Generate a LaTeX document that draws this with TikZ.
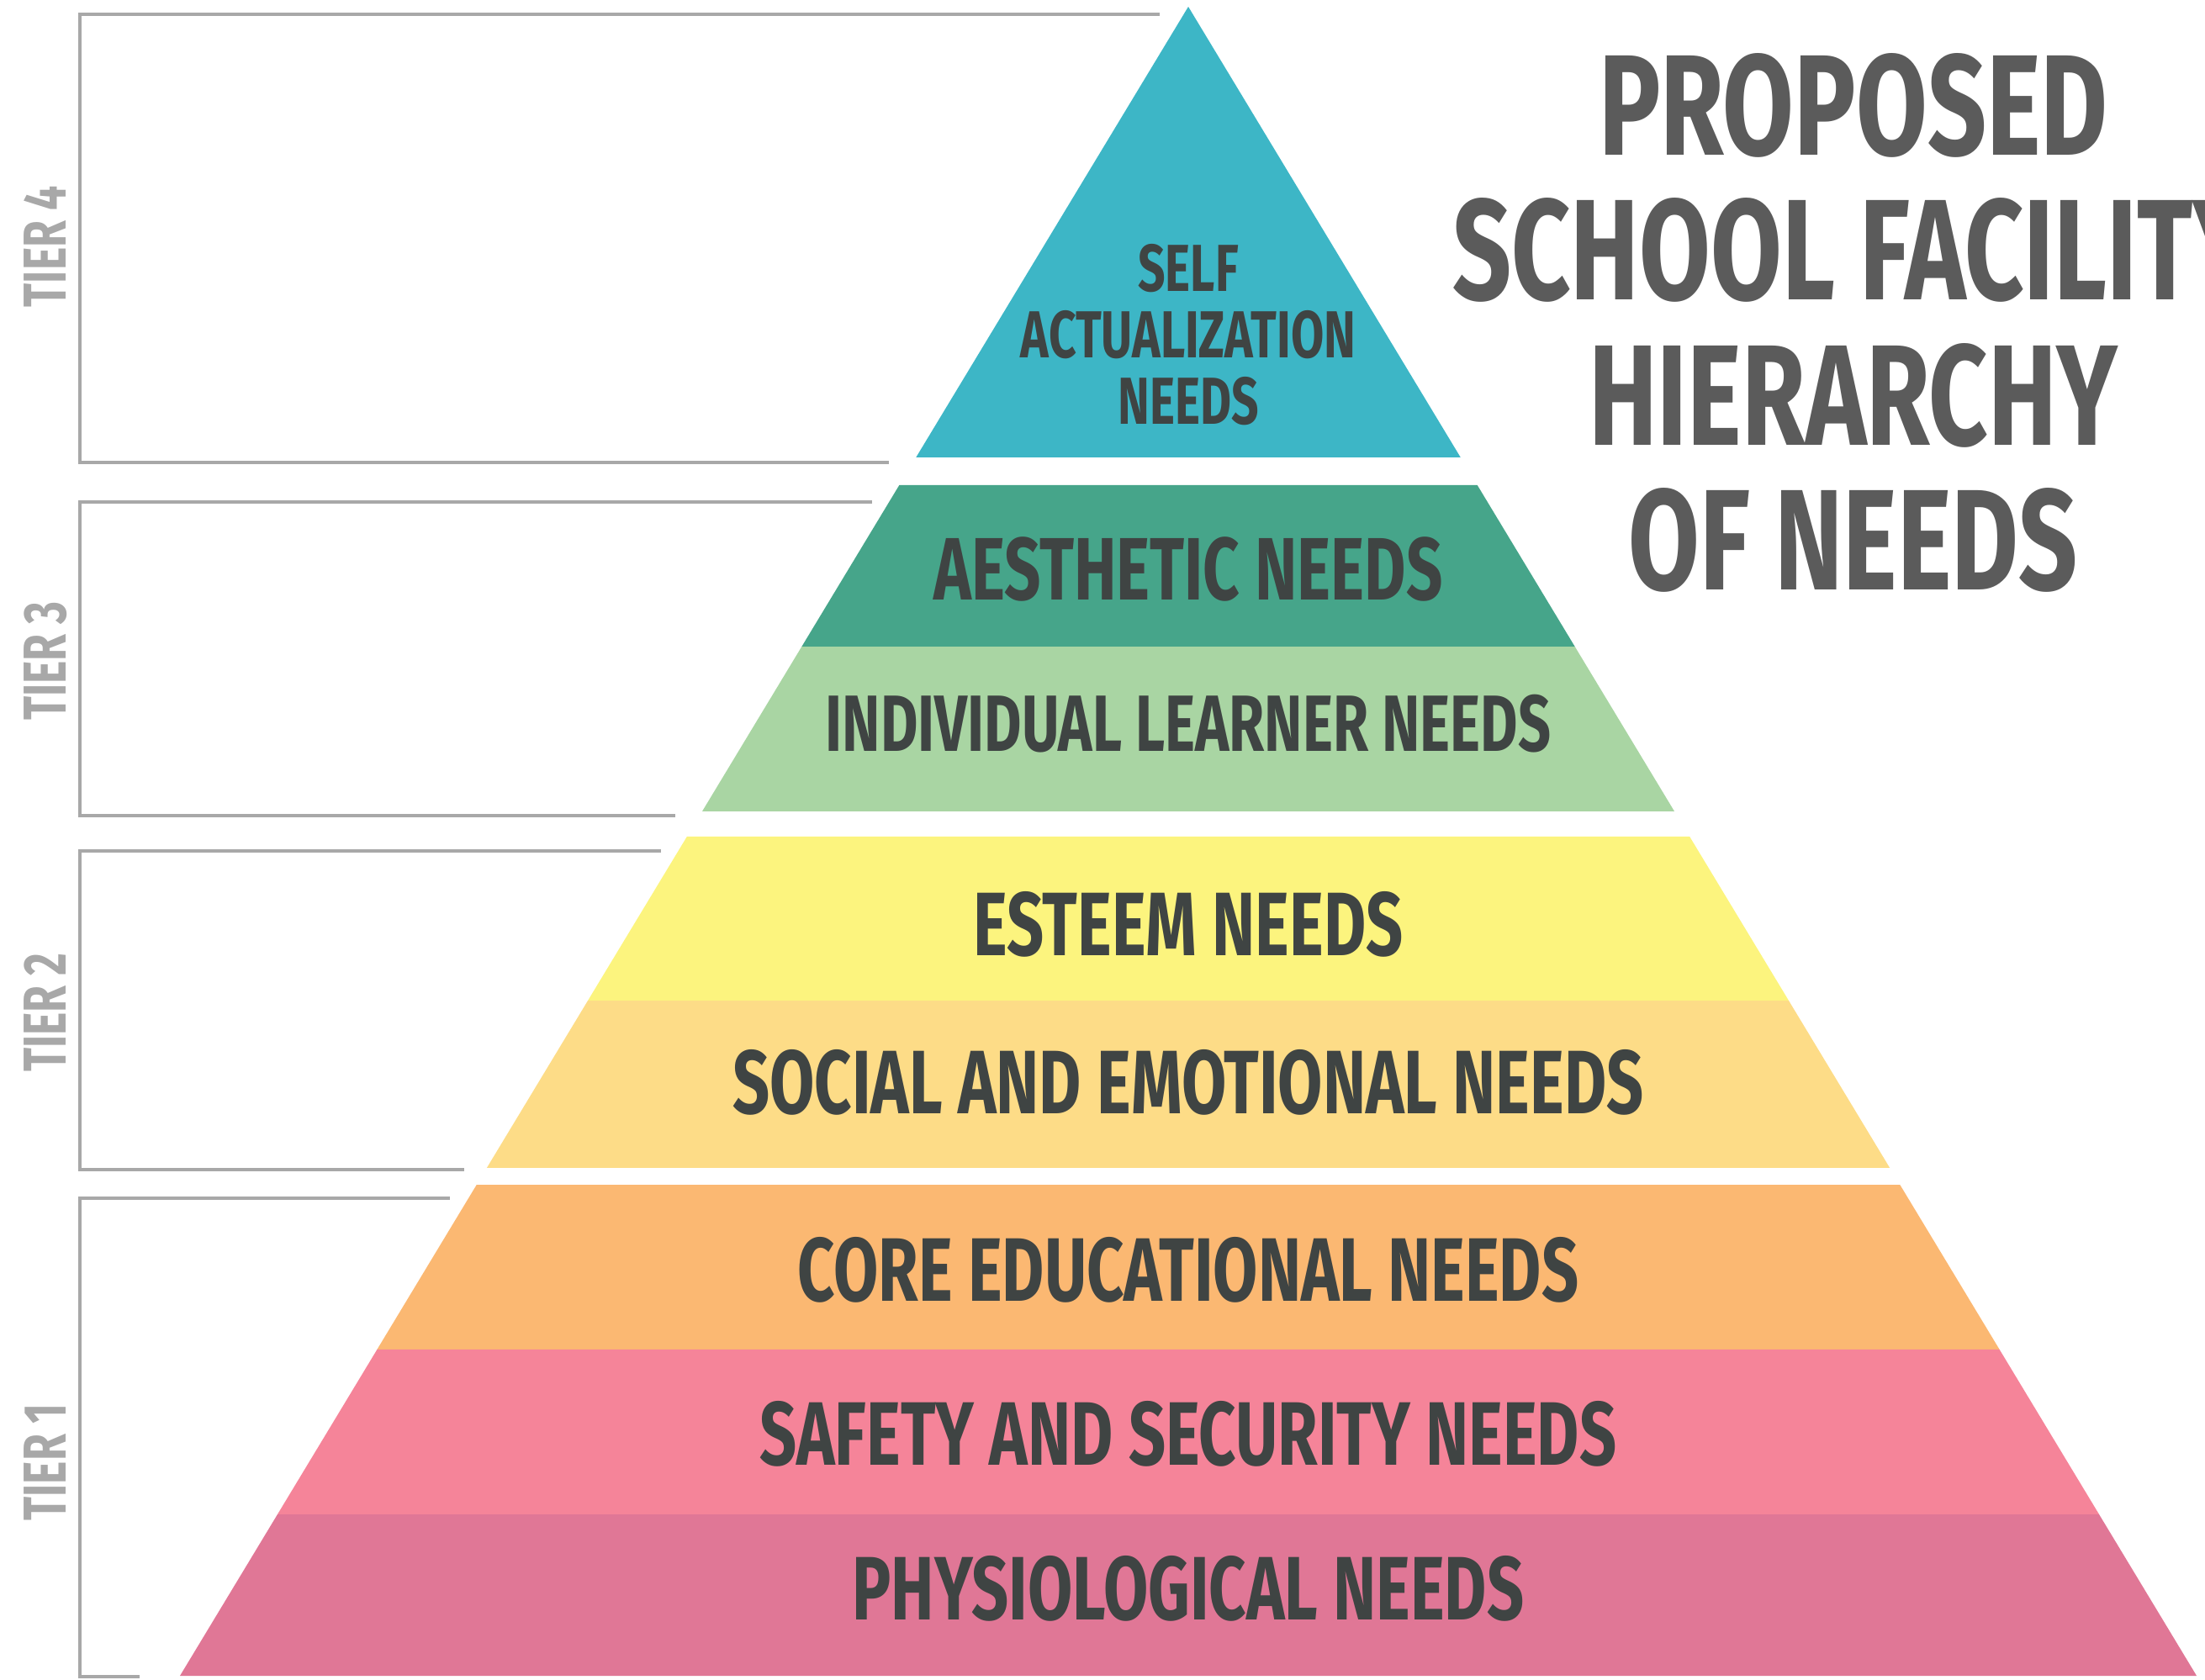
\documentclass[tikz,border=0pt]{standalone}
\usepackage{fontspec}
\setmainfont{Fira Sans}[FakeStretch=0.72]
\usepackage{tikz}
\usetikzlibrary{positioning,calc}
\definecolor{NeedSelf}{HTML}{3DB6C6}
\definecolor{NeedAesthetic}{HTML}{46A58A}
\definecolor{NeedLearner}{HTML}{A9D5A3}
\definecolor{NeedEsteem}{HTML}{FCF47E}
\definecolor{NeedSocial}{HTML}{FDDC87}
\definecolor{NeedCore}{HTML}{FBB872}
\definecolor{NeedSafety}{HTML}{F58499}
\definecolor{NeedBody}{HTML}{E07796}
\definecolor{NeedText}{HTML}{3F4443}
\definecolor{TitleGray}{HTML}{5B5B5B}
\definecolor{TierGray}{HTML}{A8A8A8}
\tikzset{
  needtext/.style={font=\bfseries\fontsize{30.5}{32}\selectfont, text=NeedText, align=center},
  tierbox/.style={draw=TierGray, line width=1.1pt},
  tierlabel/.style={rotate=90, font=\bfseries\fontsize{20.5}{24}\selectfont, text=TierGray},
  titletext/.style={font=\bfseries\fontsize{48.5}{49}\selectfont, text=TitleGray, align=center}
}

\begin{document}
\begin{tikzpicture}
        \useasboundingbox (0,0) rectangle (26.22,19.97);
        \clip (0,0) rectangle (26.22,19.97);
        \coordinate (apex) at (14.13,19.89);
        \coordinate (bl) at (2.14,0.04);
        \coordinate (br) at (26.12,0.04);
        % pyramid bands, as fractions from apex to base
        \foreach \a/\b/\col in {0/0.270/NeedSelf, 0.2866/0.3834/NeedAesthetic,
            0.3834/0.4821/NeedLearner, 0.4972/0.5955/NeedEsteem, 0.5955/0.6957/NeedSocial,
            0.7058/0.8045/NeedCore, 0.8045/0.9033/NeedSafety, 0.9033/1/NeedBody} {
          \fill[\col] ($(apex)!\a!(bl)$) -- ($(apex)!\a!(br)$) -- ($(apex)!\b!(br)$) -- ($(apex)!\b!(bl)$) -- cycle;
        }
        \node[needtext, font=\bfseries\fontsize{22.5}{22.4}\selectfont] (self) at (14.13,15.99) {SELF\\ACTUALIZATION\\NEEDS};
        \node[needtext, font=\bfseries\fontsize{30}{32}\selectfont] (aesthetic) at (14.13,13.20) {AESTHETIC NEEDS};
        \node[needtext, font=\bfseries\fontsize{27}{30}\selectfont] (learner) at (14.13,11.36) {INDIVIDUAL LEARNER NEEDS};
        \node[needtext] (esteem) at (14.13,8.98) {ESTEEM NEEDS};
        \node[needtext] (social) at (14.13,7.10) {SOCIAL AND EMOTIONAL NEEDS};
        \node[needtext] (core) at (14.13,4.87) {CORE EDUCATIONAL NEEDS};
        \node[needtext] (safety) at (14.13,2.92) {SAFETY AND SECURITY NEEDS};
        \node[needtext] (body) at (14.13,1.08) {PHYSIOLOGICAL NEEDS};
        % tier brackets on the left
        \foreach \n/\top/\bot/\rt/\rb/\ly in {4/19.80/14.47/13.79/10.57/17.04, 3/14.00/10.27/10.37/8.03/12.11,
            2/9.85/6.06/7.86/5.52/7.93, 1/5.72/0.03/5.35/1.66/2.58} {
          \draw[tierbox] (\rt,\top) -- (0.95,\top) -- (0.95,\bot) -- (\rb,\bot);
          \node[tierlabel] (tier\n) at (0.54,\ly) {TIER \n};
        }
        \node[titletext] (title) at (22.04,16.13) {PROPOSED\\SCHOOL FACILITY\\HIERARCHY\\OF NEEDS};
\end{tikzpicture}
\end{document}
